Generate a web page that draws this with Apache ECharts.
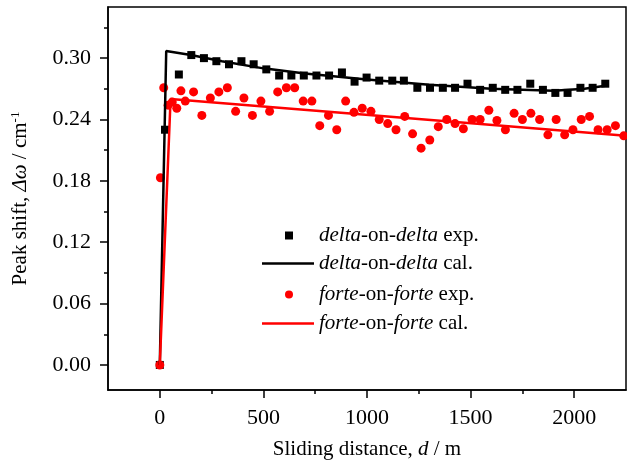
<!DOCTYPE html>
<html>
<head>
<meta charset="utf-8">
<script src="https://cdn.jsdelivr.net/npm/echarts@6/dist/echarts.min.js"></script>
<style>
  html, body { margin: 0; padding: 0; background: #fff; }
  #main { width: 627px; height: 467px; }
</style>
</head>
<body>
<div id="main"></div>
<script>
// delta-on-delta, measured points
var deltaExpX = [0, 25, 92, 152, 213, 273, 334, 394, 453, 514, 576, 635, 695, 756, 817, 879, 940, 998, 1059, 1122, 1178, 1243, 1304, 1366, 1425, 1485, 1546, 1607, 1667, 1726, 1788, 1849, 1909, 1968, 2030, 2089, 2150];
var deltaExpY = [0, 0.230, 0.284, 0.303, 0.300, 0.297, 0.294, 0.297, 0.294, 0.289, 0.283, 0.283, 0.283, 0.283, 0.283, 0.286, 0.277, 0.281, 0.278, 0.278, 0.278, 0.271, 0.271, 0.271, 0.271, 0.275, 0.269, 0.271, 0.269, 0.269, 0.275, 0.269, 0.266, 0.266, 0.271, 0.271, 0.275];
// delta-on-delta, calculated
var deltaCalX = [0, 31, 150, 300, 500, 700, 900, 1000, 1300, 1600, 1900, 2050, 2150];
var deltaCalY = [0, 0.307, 0.303, 0.297, 0.290, 0.285, 0.281, 0.279, 0.274, 0.270, 0.268, 0.270, 0.273];
// forte-on-forte, measured points
var forteExpX = [0, 3, 19, 40, 60, 82, 102, 123, 163, 203, 244, 285, 326, 366, 406, 447, 488, 530, 569, 611, 651, 692, 734, 772, 814, 854, 897, 937, 977, 1019, 1059, 1100, 1140, 1182, 1220, 1261, 1303, 1344, 1385, 1425, 1465, 1507, 1546, 1588, 1627, 1668, 1710, 1750, 1791, 1833, 1873, 1913, 1954, 1994, 2034, 2074, 2115, 2159, 2199, 2239];
var forteExpY = [0, 0.183, 0.271, 0.254, 0.257, 0.251, 0.268, 0.258, 0.267, 0.244, 0.261, 0.267, 0.271, 0.248, 0.261, 0.244, 0.258, 0.248, 0.267, 0.271, 0.271, 0.258, 0.258, 0.234, 0.244, 0.230, 0.258, 0.247, 0.251, 0.248, 0.240, 0.236, 0.230, 0.243, 0.226, 0.212, 0.220, 0.233, 0.240, 0.236, 0.231, 0.240, 0.240, 0.249, 0.239, 0.230, 0.246, 0.240, 0.246, 0.240, 0.225, 0.240, 0.225, 0.230, 0.240, 0.243, 0.230, 0.230, 0.234, 0.224];
// forte-on-forte, calculated
var forteCalX = [0, 52, 2250];
var forteCalY = [0, 0.260, 0.224];

var xTicks = [0, 500, 1000, 1500, 2000];
var xMinorTicks = [250, 750, 1250, 1750];
var yTicks = [0, 0.06, 0.12, 0.18, 0.24, 0.30];
var yMinorTicks = [0.03, 0.09, 0.15, 0.21, 0.27, 0.33];

var names = ['delta-on-delta exp.', 'delta-on-delta cal.', 'forte-on-forte exp.', 'forte-on-forte cal.'];
var legendText = {
  'delta-on-delta exp.': '{s| }{i|delta}-on-{i|delta} exp.',
  'delta-on-delta cal.': '{i|delta}-on-{i|delta} cal.',
  'forte-on-forte exp.': '{s| }{i|forte}-on-{i|forte} exp.',
  'forte-on-forte cal.': '{i|forte}-on-{i|forte} cal.'
};

function zip(xs, ys) {
  return xs.map(function (x, k) { return [x, ys[k]]; });
}

var serif = 'Liberation Serif';
var black = '#000';
var red = '#ff0000';

function legendFor(name, top, isLine) {
  return {
    data: [name],
    orient: 'vertical',
    left: isLine ? 262 : 285,
    top: top,
    padding: 0,
    itemWidth: isLine ? 52 : 8,
    itemHeight: isLine ? 2.5 : 8,
    icon: isLine ? 'rect' : undefined,
    textStyle: {
      fontFamily: serif, fontSize: 21, color: black, lineHeight: 20,
      rich: {
        i: { fontFamily: serif, fontSize: 21, fontStyle: 'italic', color: black, lineHeight: 20 },
        s: { width: 21, lineHeight: 20 }
      }
    },
    formatter: function (n) { return legendText[n]; }
  };
}

var myChart = echarts.init(document.getElementById('main'));

var option = {
  animation: false,
  backgroundColor: '#fff',
  grid: {
    left: 108, right: 1, top: 7, bottom: 77,
    show: true, borderColor: black, borderWidth: 1.5
  },
  legend: [
    legendFor(names[0], 225, false),
    legendFor(names[1], 253, true),
    legendFor(names[2], 284, false),
    legendFor(names[3], 313, true)
  ],
  xAxis: [{
    type: 'value',
    min: -250, max: 2250,
    name: 'Sliding distance, {i|d} / m',
    nameLocation: 'middle',
    nameGap: 49,
    nameTextStyle: {
      fontFamily: serif, fontSize: 21, color: black,
      rich: { i: { fontFamily: serif, fontSize: 21, fontStyle: 'italic', color: black } }
    },
    axisLine: { onZero: false, lineStyle: { color: black, width: 1.5 } },
    axisTick: { length: 8, customValues: xTicks, lineStyle: { color: black, width: 1.5 } },
    axisLabel: {
      customValues: xTicks, fontFamily: serif, fontSize: 22, color: black, margin: 17,
      formatter: function (v) { return String(v); }
    },
    splitLine: { show: false }
  }, {
    // minor ticks only
    type: 'value',
    position: 'bottom',
    min: -250, max: 2250,
    axisLine: { show: false, onZero: false },
    axisTick: { length: 4, customValues: xMinorTicks, lineStyle: { color: black, width: 1.5 } },
    axisLabel: { show: false },
    splitLine: { show: false }
  }],
  yAxis: [{
    type: 'value',
    min: -0.0245, max: 0.35,
    name: 'Peak shift, {i|Δω} / cm{sup|-1}',
    nameLocation: 'middle',
    nameGap: 76,
    nameTextStyle: {
      fontFamily: serif, fontSize: 21, color: black,
      rich: {
        i: { fontFamily: serif, fontSize: 21, fontStyle: 'italic', color: black },
        sup: { fontFamily: serif, fontSize: 13, color: black, verticalAlign: 'bottom', padding: [0, 0, 10, 0] }
      }
    },
    axisLine: { onZero: false, lineStyle: { color: black, width: 1.5 } },
    axisTick: { length: 8, customValues: yTicks, lineStyle: { color: black, width: 1.5 } },
    axisLabel: {
      customValues: yTicks, fontFamily: serif, fontSize: 22, color: black, margin: 17,
      formatter: function (v) { return v.toFixed(2); }
    },
    splitLine: { show: false }
  }, {
    // minor ticks only
    type: 'value',
    position: 'left',
    min: -0.0245, max: 0.35,
    axisLine: { show: false, onZero: false },
    axisTick: { length: 4, customValues: yMinorTicks, lineStyle: { color: black, width: 1.5 } },
    axisLabel: { show: false },
    splitLine: { show: false }
  }],
  series: [{
    name: names[0],
    type: 'scatter',
    symbol: 'rect',
    symbolSize: 8,
    itemStyle: { color: black, opacity: 1 },
    data: zip(deltaExpX, deltaExpY)
  }, {
    name: names[1],
    type: 'line',
    symbol: 'none',
    lineStyle: { color: black, width: 2.5 },
    itemStyle: { color: black },
    data: zip(deltaCalX, deltaCalY)
  }, {
    name: names[2],
    type: 'scatter',
    symbol: 'circle',
    symbolSize: 9,
    itemStyle: { color: red, opacity: 1 },
    data: zip(forteExpX, forteExpY)
  }, {
    name: names[3],
    type: 'line',
    symbol: 'none',
    lineStyle: { color: red, width: 2.5 },
    itemStyle: { color: red },
    data: zip(forteCalX, forteCalY)
  }]
};

myChart.setOption(option);
</script>
</body>
</html>
